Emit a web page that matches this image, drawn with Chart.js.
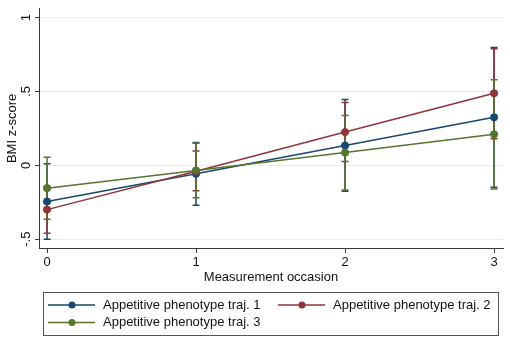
<!DOCTYPE html>
<html>
<head>
<meta charset="utf-8">
<script src="https://cdn.jsdelivr.net/npm/chart.js@4.4.0/dist/chart.umd.min.js"></script>
<style>
html, body { margin: 0; padding: 0; background: #fff; }
#wrap { width: 510px; height: 340px; }
</style>
</head>
<body>
<div id="wrap"><canvas id="bmiChart" width="510" height="340"></canvas></div>
<script>
// measurement occasions (x axis)
var occasions = [0, 1, 2, 3];

// mean BMI z-score per trajectory, with lower / upper CI
var traj1 = [-0.245, -0.057, 0.134, 0.325];
var traj1Lo = [-0.50, -0.27, -0.175, -0.148];
var traj1Hi = [0.01, 0.155, 0.445, 0.798];

var traj2 = [-0.30, -0.04, 0.225, 0.488];
var traj2Lo = [-0.46, -0.172, 0.025, 0.18];
var traj2Hi = [-0.14, 0.097, 0.425, 0.79];

var traj3 = [-0.155, -0.035, 0.086, 0.21];
var traj3Lo = [-0.365, -0.22, -0.168, -0.16];
var traj3Hi = [0.055, 0.15, 0.338, 0.58];

var seriesNames = ["Appetitive phenotype traj. 1", "Appetitive phenotype traj. 2", "Appetitive phenotype traj. 3"];
var xTickValues = [0, 1, 2, 3];
var yTickValues = [-0.5, 0, 0.5, 1];
var yTickLabels = ["-.5", "0", ".5", "1"];

var navy = "#1a476f";
var maroon = "#90353b";
var forest = "#55752f";
var axisColor = "#3a3a3a";

Chart.defaults.font.family = "'Liberation Sans', Arial, sans-serif";
Chart.defaults.font.size = 13;
Chart.defaults.color = "#111";

function toPoints(ys) {
    return occasions.map(function (x, i) { return { x: x, y: ys[i] }; });
}

function makeSet(i, ys, lo, hi, color, order) {
    return {
        label: seriesNames[i],
        data: toPoints(ys),
        lo: lo,
        hi: hi,
        borderColor: color,
        backgroundColor: color,
        pointBackgroundColor: color,
        pointBorderColor: color,
        borderWidth: 1.5,
        pointRadius: 3.6,
        pointBorderWidth: 1,
        tension: 0,
        order: order
    };
}

// error bars drawn under the lines and markers
var errorBars = {
    id: 'errorBars',
    beforeDatasetsDraw: function (chart) {
        var ctx = chart.ctx;
        var xs = chart.scales.x, ys = chart.scales.y;
        var sets = chart.data.datasets.slice().sort(function (a, b) { return b.order - a.order; });
        ctx.save();
        sets.forEach(function (ds) {
            ctx.strokeStyle = ds.borderColor;
            ctx.lineWidth = 1.5;
            ds.data.forEach(function (p, i) {
                var px = xs.getPixelForValue(p.x);
                var y1 = ys.getPixelForValue(ds.lo[i]);
                var y2 = ys.getPixelForValue(ds.hi[i]);
                ctx.beginPath();
                ctx.moveTo(px, y1); ctx.lineTo(px, y2);
                ctx.moveTo(px - 3.5, y1); ctx.lineTo(px + 3.5, y1);
                ctx.moveTo(px - 3.5, y2); ctx.lineTo(px + 3.5, y2);
                ctx.stroke();
            });
        });
        ctx.restore();
    }
};

// stata-style boxed legend
var boxLegend = {
    id: 'boxLegend',
    afterDraw: function (chart) {
        var ctx = chart.ctx;
        var area = chart.chartArea;
        var left = area.left + 4, right = area.right - 5, top = 292, bottom = 335;
        ctx.save();
        ctx.strokeStyle = "#555";
        ctx.lineWidth = 1;
        ctx.strokeRect(left + 0.5, top + 0.5, right - left, bottom - top);
        var spots = [[left + 5, 305], [left + 235, 305], [left + 5, 322.5]];
        chart.data.datasets.forEach(function (ds, i) {
            var x = spots[i][0], y = spots[i][1];
            ctx.strokeStyle = ds.borderColor;
            ctx.lineWidth = 1.5;
            ctx.beginPath();
            ctx.moveTo(x, y); ctx.lineTo(x + 47, y);
            ctx.stroke();
            ctx.fillStyle = ds.borderColor;
            ctx.beginPath();
            ctx.arc(x + 24, y, 3.5, 0, Math.PI * 2);
            ctx.fill();
            ctx.fillStyle = "#111";
            ctx.font = "13px 'Liberation Sans', Arial, sans-serif";
            ctx.textBaseline = "middle";
            ctx.textAlign = "left";
            ctx.fillText(ds.label, x + 55, y);
        });
        ctx.restore();
    }
};

var ctx = document.getElementById("bmiChart").getContext("2d");
var chart = new Chart(ctx, {
    type: 'line',
    data: {
        datasets: [
            makeSet(0, traj1, traj1Lo, traj1Hi, navy, 3),
            makeSet(1, traj2, traj2Lo, traj2Hi, maroon, 2),
            makeSet(2, traj3, traj3Lo, traj3Hi, forest, 1)
        ]
    },
    options: {
        responsive: false,
        animation: false,
        devicePixelRatio: 1,
        layout: { padding: { top: 3, right: 7, bottom: 55, left: 0 } },
        plugins: {
            legend: { display: false },
            tooltip: { enabled: false }
        },
        scales: {
            x: {
                type: 'linear',
                min: -0.054,
                max: 3.06,
                afterBuildTicks: function (s) { s.ticks = xTickValues.map(function (v) { return { value: v }; }); },
                afterFit: function (s) { s.height = 37; },
                ticks: { padding: 2, callback: function (v) { return String(v); } },
                grid: { drawOnChartArea: false, tickLength: 5, tickColor: axisColor },
                border: { color: axisColor, width: 1 },
                title: { display: true, text: 'Measurement occasion', padding: { top: 0, bottom: 0 } }
            },
            y: {
                min: -0.56,
                max: 1.06,
                afterBuildTicks: function (s) { s.ticks = yTickValues.map(function (v) { return { value: v }; }); },
                afterFit: function (s) { s.width = 39; },
                ticks: {
                    minRotation: 90,
                    maxRotation: 90,
                    crossAlign: 'center',
                    padding: 1,
                    callback: function (v) { return yTickLabels[yTickValues.indexOf(v)]; }
                },
                grid: { color: '#ececec', lineWidth: 1, tickLength: 4, tickColor: axisColor },
                border: { color: axisColor, width: 1 },
                title: { display: true, text: 'BMI z-score', padding: { top: 5, bottom: 0 } }
            }
        }
    },
    plugins: [errorBars, boxLegend]
});
</script>
</body>
</html>
